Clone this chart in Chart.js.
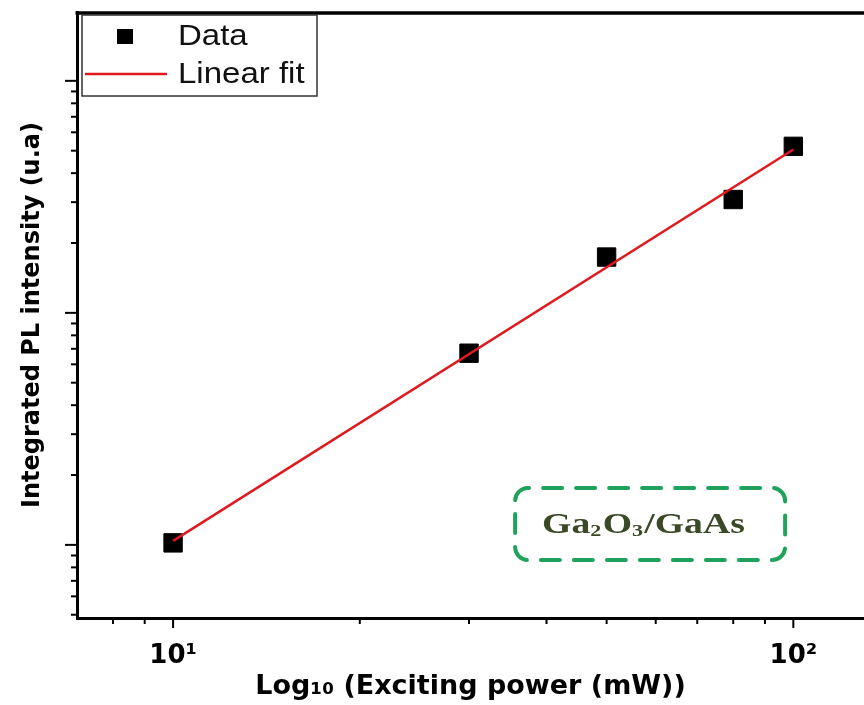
<!DOCTYPE html>
<html>
<head>
<meta charset="utf-8">
<script src="https://cdn.jsdelivr.net/npm/chart.js@4/dist/chart.umd.min.js"></script>
<style>
  html, body { margin: 0; padding: 0; background: #fff; overflow: hidden; }
  #chart { display: block; }
</style>
</head>
<body>
<canvas id="chart" width="864" height="705"></canvas>
<script>
// measured points (mW, arbitrary units)
const powerMW = [10, 30, 50, 80, 100];
const plIntensity = [1.02e5, 6.7e5, 1.74e6, 3.08e6, 5.22e6];

// linear fit in log-log, end points
const fitPower = [10, 100];
const fitIntensity = [1.04e5, 5.06e6];

// ticks
const xTickValues = [8, 9, 10, 20, 30, 40, 50, 60, 70, 80, 90, 100];
const xMajorTicks = [10, 100];
const xTickLabels = { 10: '10¹', 100: '10²' };
const yTickValues = [
    5e4, 6e4, 7e4, 8e4, 9e4,
    1e5, 2e5, 3e5, 4e5, 5e5, 6e5, 7e5, 8e5, 9e5,
    1e6, 2e6, 3e6, 4e6, 5e6, 6e6, 7e6, 8e6, 9e6,
    1e7
];
const yMajorTicks = [1e5, 1e6, 1e7];

const sampleLabel = ['Ga', '2', 'O', '3', '/GaAs'];

function line(ctx, x1, y1, x2, y2) {
    ctx.beginPath();
    ctx.moveTo(x1, y1);
    ctx.lineTo(x2, y2);
    ctx.stroke();
}

// ticks, top frame, legend and the sample box
const decor = {
    id: 'decor',
    afterDraw(chart) {
        const { ctx, chartArea: a } = chart;
        const xs = chart.scales.x;
        const ys = chart.scales.y;
        ctx.save();
        ctx.strokeStyle = '#000';
        ctx.lineWidth = 2;

        xTickValues.forEach(v => {
            const px = xs.getPixelForValue(v);
            const len = xMajorTicks.includes(v) ? 10 : 6;
            line(ctx, px, a.bottom, px, a.bottom + len);
        });
        yTickValues.forEach(v => {
            const py = ys.getPixelForValue(v);
            const len = yMajorTicks.includes(v) ? 12 : 6;
            line(ctx, a.left, py, a.left - len, py);
        });

        ctx.lineWidth = 3.5;
        line(ctx, a.left - 1.5, a.top + 1, a.right, a.top + 1);

        // legend
        const lx = a.left + 5, ly = a.top + 3;
        ctx.lineWidth = 1.5;
        ctx.strokeStyle = '#333';
        ctx.strokeRect(lx, ly, 235, 81);

        const dsData = chart.data.datasets[1];
        const dsFit = chart.data.datasets[0];
        ctx.fillStyle = dsData.backgroundColor;
        ctx.fillRect(lx + 35, ly + 14, 16, 15);
        ctx.strokeStyle = dsFit.borderColor;
        ctx.lineWidth = 2.5;
        line(ctx, lx + 3, ly + 59, lx + 85, ly + 59);

        ctx.fillStyle = '#111';
        ctx.font = '30px "Liberation Sans", Arial, sans-serif';
        ctx.textBaseline = 'middle';
        ctx.save();
        ctx.translate(lx + 96, 0);
        ctx.scale(1.1, 1);
        ctx.fillText(dsData.label, 0, ly + 22);
        ctx.fillText(dsFit.label, 0, ly + 60);
        ctx.restore();

        // sample box
        const bx1 = xs.getPixelForValue(35.6), bx2 = xs.getPixelForValue(97);
        const by1 = ys.getPixelForValue(1.76e5), by2 = ys.getPixelForValue(8.6e4);
        ctx.strokeStyle = '#1fa35c';
        ctx.lineWidth = 4;
        ctx.lineCap = 'round';
        ctx.setLineDash([19, 14]);
        ctx.lineDashOffset = 18;
        ctx.beginPath();
        ctx.roundRect(bx1, by1, bx2 - bx1, by2 - by1, 13);
        ctx.stroke();
        ctx.setLineDash([]);
        ctx.lineCap = 'butt';

        ctx.fillStyle = '#3b4a26';
        ctx.textBaseline = 'alphabetic';
        ctx.save();
        ctx.translate(bx1 + 27, by1 + 45);
        ctx.scale(1.3, 1);
        let tx = 0;
        sampleLabel.forEach((s, i) => {
            const sub = i === 1 || i === 3;
            ctx.font = (sub ? 'bold 17px' : 'bold 29px') + ' "Liberation Serif", "DejaVu Serif", serif';
            ctx.fillText(s, tx, sub ? 3 : 0);
            tx += ctx.measureText(s).width + (sub ? 1 : 0);
        });
        ctx.restore();

        ctx.restore();
    }
};

const titleFont = { family: '"DejaVu Sans", sans-serif', weight: 'bold' };

new Chart(document.getElementById('chart'), {
    type: 'scatter',
    data: {
        datasets: [
            {
                label: 'Linear fit',
                type: 'line',
                data: fitPower.map((p, i) => ({ x: p, y: fitIntensity[i] })),
                borderColor: '#e0191f',
                borderWidth: 2.5,
                pointRadius: 0,
                showLine: true,
                order: 0
            },
            {
                label: 'Data',
                data: powerMW.map((p, i) => ({ x: p, y: plIntensity[i] })),
                backgroundColor: '#000',
                borderColor: '#000',
                pointStyle: 'rect',
                pointRadius: 13,
                pointHoverRadius: 13,
                showLine: false,
                order: 1
            }
        ]
    },
    options: {
        responsive: false,
        animation: false,
        layout: { autoPadding: false, padding: { top: 12, right: 0, left: 0, bottom: 0 } },
        plugins: {
            legend: { display: false },
            tooltip: { enabled: false }
        },
        scales: {
            x: {
                type: 'logarithmic',
                min: 7,
                max: 130,
                afterBuildTicks: s => {
                    s.ticks = xTickValues.map(v => ({ value: v, major: xMajorTicks.includes(v) }));
                },
                afterFit: s => {
                    s.height = 87;
                    s.paddingLeft = 0;
                    s.paddingRight = 0;
                },
                grid: { display: false, drawTicks: false },
                border: { display: true, color: '#000', width: 3 },
                ticks: {
                    autoSkip: false,
                    maxRotation: 0,
                    padding: 23,
                    color: '#000',
                    font: { family: '"DejaVu Sans", sans-serif', weight: 'bold', size: 26 },
                    callback: v => xTickLabels[v] || ''
                },
                title: {
                    display: true,
                    text: 'Log₁₀ (Exciting power (mW))',
                    color: '#000',
                    font: { ...titleFont, size: 27 },
                    padding: { top: 0, bottom: 2 }
                }
            },
            y: {
                type: 'logarithmic',
                min: 4.84e4,
                max: 1.98e7,
                afterFit: s => { s.width = 77; },
                grid: { display: false, drawTicks: false },
                border: { display: true, color: '#000', width: 3 },
                ticks: { display: false },
                title: {
                    display: true,
                    text: 'Integrated PL intensity (u.a)',
                    color: '#000',
                    font: { ...titleFont, size: 24 },
                    padding: { top: 18, bottom: 0 }
                }
            }
        }
    },
    plugins: [decor]
});
</script>
</body>
</html>
